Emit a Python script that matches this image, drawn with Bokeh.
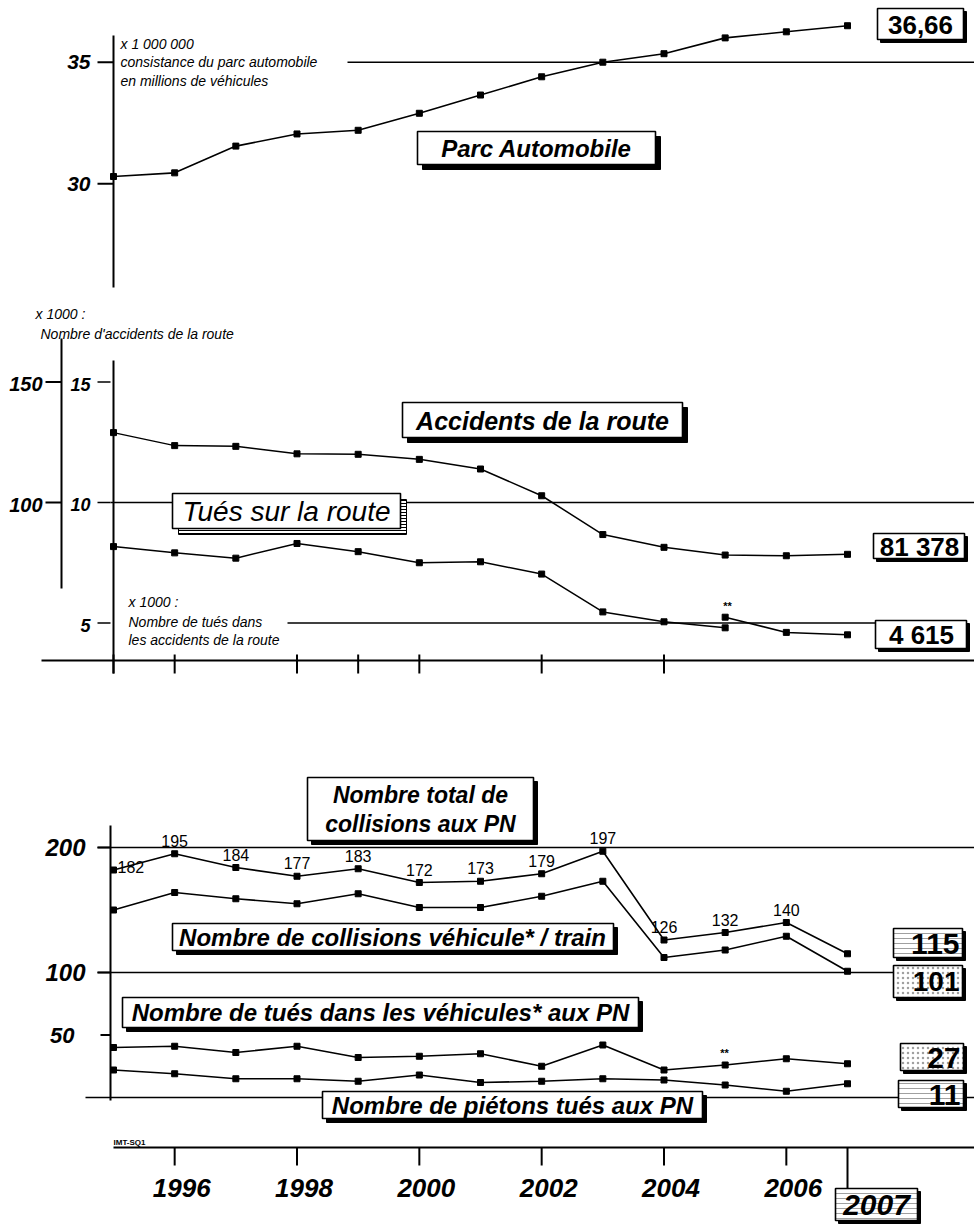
from bokeh.plotting import figure
from bokeh.models import Range1d
from bokeh.core.properties import value
from bokeh.embed import file_html
from bokeh.resources import INLINE

# ---------------- data ----------------
years = [1995, 1996, 1997, 1998, 1999, 2000, 2001, 2002, 2003, 2004, 2005, 2006, 2007]
parc_millions = [30.3, 30.45, 31.55, 32.05, 32.2, 32.9, 33.65, 34.4, 35.0, 35.35, 36.0, 36.25, 36.5]
accidents_milliers = [129.0, 123.6, 123.3, 120.2, 120.0, 117.9, 113.9, 102.8, 86.7, 81.4, 78.2, 77.9, 78.5]
tues_years_old = [1995, 1996, 1997, 1998, 1999, 2000, 2001, 2002, 2003, 2004, 2005]
tues_route_old = [8.17, 7.91, 7.69, 8.30, 7.96, 7.50, 7.54, 7.03, 5.46, 5.05, 4.80]
tues_years_new = [2005, 2006, 2007]
tues_route_new = [5.24, 4.61, 4.51]
collisions_total = [182, 195, 184, 177, 183, 172, 173, 179, 197, 126, 132, 140, 115]
collisions_vt = [150, 164, 159, 155, 163, 152, 152, 161, 173, 112, 118, 129, 101]
tues_vehicules_pn = [40, 41, 36, 41, 32, 33, 35, 25, 42, 22, 26, 31, 27]
pietons_tues_pn = [22, 19, 15, 15, 13, 18, 12, 13, 15, 14, 10, 5, 11]

top_ticks = [30, 35]
acc_ticks = [100, 150]
tues_ticks = [5, 10, 15]
bot_ticks = [50, 100, 200]
mid_xticks = [1995, 1996, 1998, 1999, 2000, 2002, 2004]
bot_xticks = [1996, 1998, 2000, 2002, 2004, 2006]
last_year = 2007

# ---------------- layout ----------------
W, H, OFF = 974, 1225, 0
X_1995, PXY = 113.0, (847.0 - 113.0) / 12.0
FONT = value("Liberation Sans")


def yrange(v, ypx, k):
    return Range1d(start=v - (OFF + H - ypx) / k, end=v + (ypx - OFF) / k)


x0 = 1995 - (X_1995 - OFF) / PXY
p = figure(width=W, height=H, x_range=Range1d(x0, x0 + W / PXY),
           y_range=yrange(30, 183.3, 24.32),
           x_axis_type=None, y_axis_type=None, output_backend="svg",
           toolbar_location=None, min_border=0, outline_line_color=None,
           background_fill_color="white", border_fill_color="white")
p.extra_x_ranges = {"px": Range1d(OFF, OFF + W)}
p.extra_y_ranges = {
    "mid": yrange(10, 502, 24.1),
    "acc": yrange(100, 502, 2.41),
    "bot": yrange(200, 847, 1.25),
    "px": Range1d(OFF + H, OFF),
}


def seg(xa, ya, xb, yb, xr="px", yr="px", w=2.0):
    p.segment(x0=xa if isinstance(xa, list) else [xa], y0=ya if isinstance(ya, list) else [ya],
              x1=xb if isinstance(xb, list) else [xb], y1=yb if isinstance(yb, list) else [yb],
              x_range_name=xr, y_range_name=yr, line_color="black", line_width=w)


def txt(x, y, s, size, style="bold italic", align="center", baseline="middle",
        xr="px", yr="px", **kw):
    p.text(x=x if isinstance(x, list) else [x], y=y if isinstance(y, list) else [y],
           text=s if isinstance(s, list) else [s], text_font=FONT,
           text_font_size=f"{size}px", text_font_style=style, text_align=align,
           text_baseline=baseline, text_color="black",
           x_range_name=xr, y_range_name=yr, **kw)


def box(l, t, r, b, sh=4, hatch=None, shadow_hatch=False):
    skw = dict(fill_color="black")
    if shadow_hatch:
        skw = dict(fill_color="white", hatch_pattern="horizontal_line", hatch_color="black",
                   hatch_scale=3, hatch_weight=1)
    p.quad(left=[l + sh], right=[r + sh], top=[t + sh], bottom=[b + sh],
           x_range_name="px", y_range_name="px", line_color="black", **skw)
    kw = {}
    if hatch:
        kw = dict(hatch_pattern=hatch, hatch_color="#a0a0a0", hatch_scale=5, hatch_weight=1)
    p.quad(left=[l], right=[r], top=[t], bottom=[b], x_range_name="px", y_range_name="px",
           fill_color="white", line_color="black", line_width=1.6, **kw)


# ================= TOP PANEL: parc automobile =================
seg(113, 35, 113, 287, w=2)
for t in top_ticks:
    seg(97, t, 113, t, yr="default", w=2)
    txt(90, t, str(t), 21, align="right", yr="default")
seg(347, 35, 974, 35, yr="default", w=1.6)
p.line(years, parc_millions, line_color="black", line_width=1.6)
p.scatter(years, parc_millions, marker="square", size=6, color="black")
txt(120, 43, "x 1 000 000", 14, style="italic", align="left")
txt(120, 61, "consistance du parc automobile", 14, style="italic", align="left")
txt(120, 80, "en millions de véhicules", 14, style="italic", align="left")
box(417, 131, 655, 164, sh=5)
txt(536, 148, "Parc Automobile", 24)
box(877, 8, 963, 39, sh=3)
txt(920, 24, "36,66", 26, style="bold")

# ================= MIDDLE PANEL: accidents / tués =================
seg(61, 338, 61, 588, w=2)
seg(113, 360, 113, 673, w=2)
for t in acc_ticks:
    seg(45, t, 61, t, yr="acc", w=2)
    txt(42, t, str(t), 20, align="right", baseline="alphabetic", yr="acc", y_offset=2)
for t in tues_ticks:
    seg(97, t, 110, t, yr="mid", w=1.6)
    txt(90, t, str(t), 18, align="right", baseline="alphabetic", yr="mid", y_offset=2)
seg(110, 10, 974, 10, yr="mid", w=1.4)
seg(287, 5, 875, 5, yr="mid", w=1.4)
seg(41, 660, 974, 660, w=2)
seg(mid_xticks, [654] * len(mid_xticks), mid_xticks, [673] * len(mid_xticks), xr="default", w=2)

p.line(years, accidents_milliers, y_range_name="acc", line_color="black", line_width=1.5)
p.scatter(years, accidents_milliers, y_range_name="acc", marker="square", size=6, color="black")
p.line(tues_years_old, tues_route_old, y_range_name="mid", line_color="black", line_width=1.5)
p.scatter(tues_years_old, tues_route_old, y_range_name="mid", marker="square", size=6, color="black")
p.line(tues_years_new, tues_route_new, y_range_name="mid", line_color="black", line_width=1.5)
p.scatter(tues_years_new, tues_route_new, y_range_name="mid", marker="square", size=6, color="black")

txt(35, 313, "x 1000 :", 14, style="italic", align="left")
txt(40, 333, "Nombre d'accidents de la route", 14, style="italic", align="left")
txt(128, 601, "x 1000 :", 14, style="italic", align="left")
txt(128, 621, "Nombre de tués dans", 14, style="italic", align="left")
txt(128, 639, "les accidents de la route", 14, style="italic", align="left")
txt(727, 605, "**", 11, style="bold")

box(402, 402, 682, 437, sh=5)
txt(542, 420, "Accidents de la route", 25)
box(172, 493, 400, 528, sh=6, shadow_hatch=True)
txt(286, 511, "Tués sur la route", 28, style="italic")
box(873, 533, 964, 558, sh=3)
txt(919, 546, "81 378", 26, style="bold")
box(875, 620, 966, 648, sh=3)
txt(921, 634, "4 615", 26, style="bold")

# ================= BOTTOM PANEL: passages à niveau =================
seg(110, 825, 110, 1100, w=2)
for t in bot_ticks:
    seg(97 if t != 50 else 100, t, 110, t, yr="bot", w=2)
    txt(85 if t != 50 else 74, t, str(t), 24 if t != 50 else 22, align="right", yr="bot")
seg(97, 200, 974, 200, yr="bot", w=1.6)
seg(97, 100, 893, 100, yr="bot", w=1.6)
seg(85, 0, 974, 0, yr="bot", w=1.6)

for series in (collisions_total, collisions_vt, tues_vehicules_pn, pietons_tues_pn):
    p.line(years, series, y_range_name="bot", line_color="black", line_width=1.6)
    p.scatter(years, series, y_range_name="bot", marker="square", size=6, color="black")

labels = [str(v) for v in collisions_total]
txt(years[0], collisions_total[0], labels[0], 16, style="normal", align="left",
    xr="default", yr="bot", x_offset=4, y_offset=-3)
txt(years[1:-1], collisions_total[1:-1], labels[1:-1], 16, style="normal",
    baseline="bottom", xr="default", yr="bot", y_offset=-7)
txt(724, 1052, "**", 11, style="bold")

box(307, 777, 533, 840, sh=4)
txt(420, 794, "Nombre total de", 23)
txt(420, 823, "collisions aux PN", 23)
box(172, 923, 613, 950, sh=4)
txt(392, 937, "Nombre de collisions véhicule* / train", 24)
box(122, 997, 638, 1027, sh=4)
txt(380, 1012, "Nombre de tués dans les véhicules* aux PN", 24)
box(322, 1091, 702, 1118, sh=4)
txt(512, 1105, "Nombre de piétons tués aux PN", 24)

box(893, 928, 962, 957, sh=3, hatch="horizontal_line")
txt(959, 943, "115", 30, style="bold", align="right")
box(893, 965, 962, 997, sh=3, hatch="dot")
txt(959, 981, "101", 28, style="bold", align="right")
box(900, 1043, 963, 1070, sh=3, hatch="dot")
txt(960, 1057, "27", 30, style="bold", align="right")
box(898, 1080, 963, 1107, sh=3, hatch="horizontal_line")
txt(960, 1094, "11", 30, style="bold", align="right")

# bottom year axis
txt(113, 1146, "IMT-SQ1", 8, style="bold", align="left", baseline="bottom")
seg(113, 1147, 974, 1147, w=2)
seg(bot_xticks, [1147] * len(bot_xticks), bot_xticks, [1165] * len(bot_xticks), xr="default", w=2)
txt(bot_xticks, [1187] * len(bot_xticks), [str(y) for y in bot_xticks], 26,
    xr="default", x_offset=7)
seg(last_year, 1147, last_year, 1188, xr="default", w=2)
box(835, 1188, 917, 1220, sh=3, hatch="horizontal_line")
txt(876, 1204, str(last_year), 30)

open("out.html", "w").write(file_html(p, INLINE))
